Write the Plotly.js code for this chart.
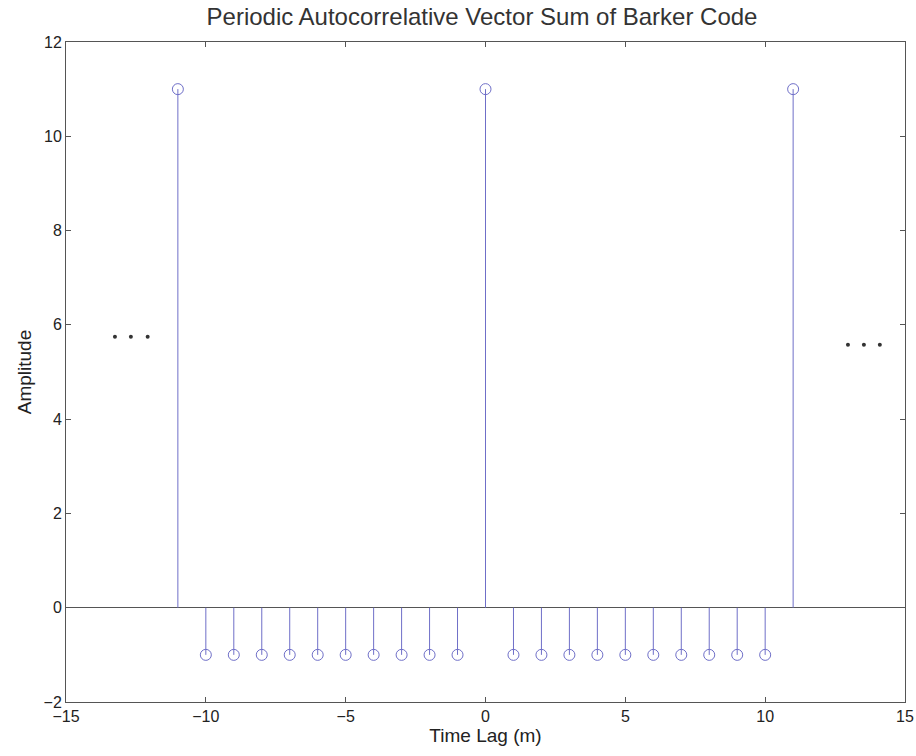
<!DOCTYPE html>
<html><head><meta charset="utf-8">
<script src="https://cdn.plot.ly/plotly-3.0.1.min.js"></script>
<style>body{margin:0;background:#fff}#c{width:916px;height:756px}</style>
</head><body><div id="c"></div>
<script>
const lags = [-11,-10,-9,-8,-7,-6,-5,-4,-3,-2,-1,0,1,2,3,4,5,6,7,8,9,10,11];
const amps = [11,-1,-1,-1,-1,-1,-1,-1,-1,-1,-1,11,-1,-1,-1,-1,-1,-1,-1,-1,-1,-1,11];
const leftDotsX = [-13.25,-12.68,-12.08];
const leftDotsY = [5.75,5.75,5.75];
const rightDotsX = [12.96,13.53,14.1];
const rightDotsY = [5.58,5.58,5.58];

const stemColor = '#6f6fc8';
const sx = [], sy = [];
lags.forEach((x,i)=>{ sx.push(x,x,null); sy.push(0,amps[i],null); });

const F = 'Liberation Sans, Arial, Helvetica, sans-serif';
const traces = [
  {x:sx, y:sy, mode:'lines', line:{color:stemColor,width:1}, hoverinfo:'skip'},
  {x:lags, y:amps, mode:'markers', marker:{symbol:'circle-open',size:11,color:stemColor,line:{width:1,color:stemColor}}},
  {x:leftDotsX, y:leftDotsY, mode:'markers', marker:{symbol:'circle',size:4,color:'#333'}},
  {x:rightDotsX, y:rightDotsY, mode:'markers', marker:{symbol:'circle',size:4,color:'#333'}}
];
const axisCommon = {showline:true, linecolor:'#555', linewidth:1, mirror:'ticks', ticks:'inside', ticklen:5, tickcolor:'#555', showgrid:false, tickfont:{family:F, size:16, color:'#222'}};
const layout = {
  width:916, height:756, showlegend:false,
  paper_bgcolor:'#fff', plot_bgcolor:'#fff',
  margin:{l:66, r:11, t:42, b:54},
  title:{text:'Periodic Autocorrelative Vector Sum of Barker Code', font:{family:F, size:24, color:'#333'}, x:482/916, xanchor:'center', xref:'container', yref:'container', y:1-17/756, yanchor:'middle'},
  xaxis:Object.assign({}, axisCommon, {range:[-15,15], tickvals:[-15,-10,-5,0,5,10,15], ticktext:['−15','−10','−5','0','5','10','15'], zeroline:false, title:{text:'Time Lag (m)', standoff:2, font:{family:F, size:19, color:'#222'}}}),
  yaxis:Object.assign({}, axisCommon, {range:[-2,12], tickvals:[-2,0,2,4,6,8,10,12], ticktext:['−2','0','2','4','6','8','10','12'], zeroline:true, zerolinecolor:'#555', zerolinewidth:1, title:{text:'Amplitude', standoff:6, font:{family:F, size:19, color:'#222'}}})
};
Plotly.newPlot('c', traces, layout, {displayModeBar:false, staticPlot:true});
</script></body></html>
